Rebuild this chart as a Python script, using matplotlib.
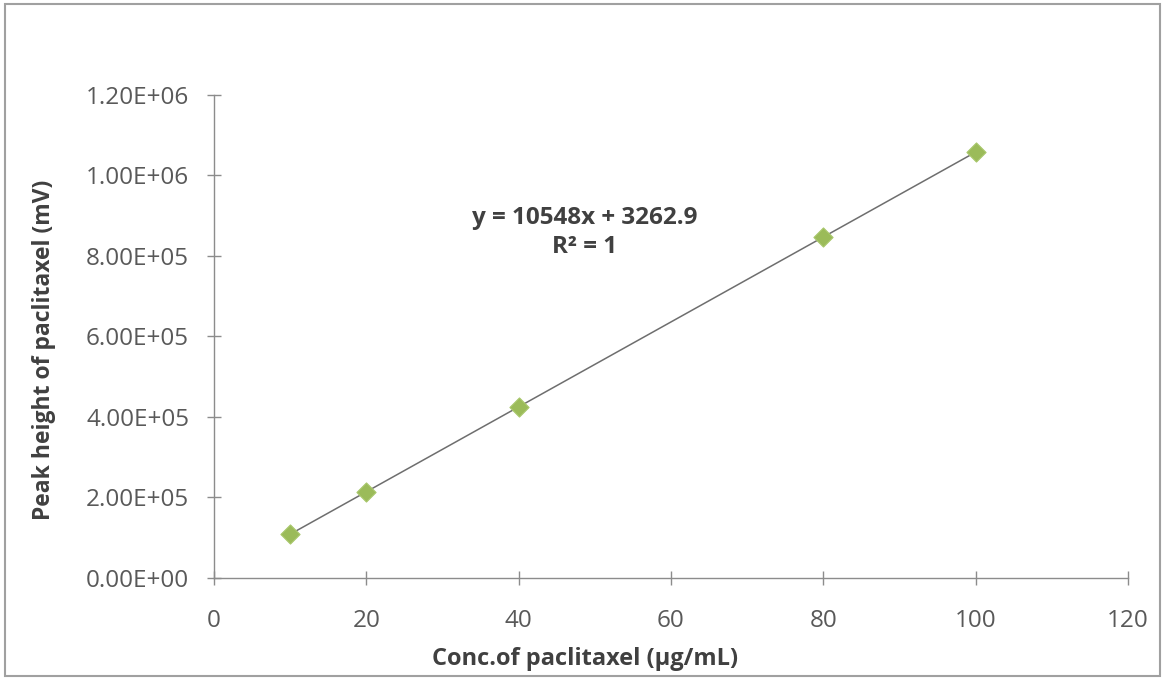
import matplotlib.pyplot as plt
import numpy as np
from matplotlib.patches import Rectangle

# kalibreringskurve for paclitaxel
konsentrasjon = [10, 20, 40, 80, 100]
topphoyde = [108700, 214200, 425200, 847100, 1058100]

# trendlinje som oppgitt i diagrammet
stigning = 10548
konstantledd = 3262.9

x_ticks = [0, 20, 40, 60, 80, 100, 120]
y_ticks = [0, 2e5, 4e5, 6e5, 8e5, 1e6, 1.2e6]

plt.rcParams['font.family'] = ['Open Sans', 'DejaVu Sans']

fig = plt.figure(figsize=(11.65, 6.8), dpi=100)
ax = fig.add_axes([0.1837, 0.15, 0.7845, 0.7103])

xs = np.array([konsentrasjon[0], konsentrasjon[-1]])
ax.plot(xs, stigning * xs + konstantledd, color="#6e6e6e", lw=1.1, zorder=2)
ax.scatter(konsentrasjon, topphoyde, marker="D", s=95, color="#9bbb59",
           edgecolors="#a9c76c", linewidths=0.8, zorder=3)

ax.set_xlim(0, 120)
ax.set_ylim(0, 1.2e6)
ax.set_xticks(x_ticks)
ax.set_yticks(y_ticks)
ax.set_xticklabels([str(t) for t in x_ticks])
ax.set_yticklabels([f"{t:.2E}" for t in y_ticks])

for side in ["top", "right"]:
    ax.spines[side].set_visible(False)
for side in ["left", "bottom"]:
    ax.spines[side].set_color("#8c8c8c")
    ax.spines[side].set_linewidth(1.0)

ax.tick_params(axis="both", direction="inout", length=10, width=1.0,
               color="#8c8c8c", labelcolor="#595959", labelsize=17.5)
ax.tick_params(axis="x", pad=17)
ax.tick_params(axis="y", pad=13)

ax.set_xlabel("Conc.of paclitaxel (μg/mL)", fontsize=17, fontweight="bold",
              color="#404040")
ax.set_ylabel("Peak height of paclitaxel (mV)", fontsize=16.5, fontweight="bold",
              color="#404040")
ax.xaxis.set_label_coords(0.406, -0.142)
ax.yaxis.set_label_coords(-0.173, 0.472)

ax.text(48.7, 8.94e5, f"y = {stigning}x + {konstantledd}", ha="center", va="center",
        fontsize=17.5, fontweight="bold", color="#404040")
ax.text(48.7, 8.22e5, "R² = 1", ha="center", va="center",
        fontsize=17.5, fontweight="bold", color="#404040")

# ramme rundt hele figuren
fig.patches.append(Rectangle((0.004, 0.006), 0.992, 0.988, transform=fig.transFigure,
                             fill=False, edgecolor="#a0a0a0", lw=1.5))

fig.savefig("out.png", dpi=100)
